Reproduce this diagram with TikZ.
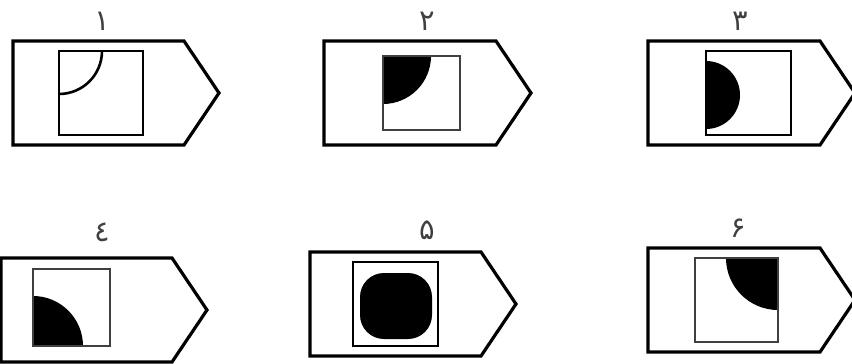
\documentclass[tikz,border=0pt]{standalone}
\usepackage{fontspec}
\newfontfamily\arabicfont[Script=Arabic]{DejaVu Sans}
\TeXXeTstate=1
\begin{document}
\begin{tikzpicture}[x=1pt,y=-1pt,
  outer/.style={line width=3.2pt,line join=miter},
  boxthick/.style={line width=2.8pt},
  boxthin/.style={line width=2.2pt,draw=black!75},
  blob/.style={fill=black},
  lbl/.style={font=\arabicfont\fontsize{29}{31}\selectfont,text=black!75,inner sep=0pt}]
\useasboundingbox (0,0) rectangle (852,364);
\clip (0,0) rectangle (852,364);
% panel 1
\draw[outer] (13,41) -- (184,41) -- (219,93) -- (184,145) -- (13,145) -- cycle;
\draw[boxthick] (59,51) rectangle (143,135);
\draw[line width=2.6pt] (102,51) arc[start angle=0,end angle=90,radius=43];
\node[lbl] (l1) at (102,21) {\beginR ١\endR};
% panel 2
\draw[outer] (324,41) -- (496,41) -- (531,93) -- (496,145) -- (324,145) -- cycle;
\fill[blob] (383,56) -- (431,56) arc[start angle=0,end angle=90,radius=48] -- cycle;
\draw[boxthin] (383,56) rectangle (460,130);
\node[lbl] (l2) at (427,21) {\beginR ٢\endR};
% panel 3
\draw[outer] (648,41) -- (820,41) -- (855,93) -- (820,145) -- (648,145) -- cycle;
\fill[blob] (706,61) arc[start angle=-90,end angle=90,radius=34] -- cycle;
\draw[boxthick] (706,51) rectangle (791,135);
\node[lbl] (l3) at (740,21) {\beginR ٣\endR};
% panel 4
\draw[outer] (1,258) -- (172,258) -- (207,310) -- (172,362) -- (1,362) -- cycle;
\fill[blob] (33,296) arc[start angle=-90,end angle=0,radius=50] -- (33,346) -- cycle;
\draw[boxthin] (33,269) rectangle (110,346);
\node[lbl] (l4) at (102,232) {\beginR ٤\endR};
% panel 5
\draw[outer] (310,252) -- (481,252) -- (516,304) -- (481,356) -- (310,356) -- cycle;
\fill[blob,rounded corners=24pt] (360,273) rectangle (432,339);
\draw[boxthick] (353,262) rectangle (438,346);
\node[lbl] (l5) at (427,230) {\beginR ۵\endR};
% panel 6
\draw[outer] (648,248) -- (820,248) -- (855,300) -- (820,352) -- (648,352) -- cycle;
\fill[blob] (726,258) arc[start angle=180,end angle=90,radius=52] -- (778,258) -- cycle;
\draw[boxthin] (695,258) rectangle (778,342);
\node[lbl] (l6) at (738,228) {\beginR ۶\endR};
\end{tikzpicture}
\end{document}
